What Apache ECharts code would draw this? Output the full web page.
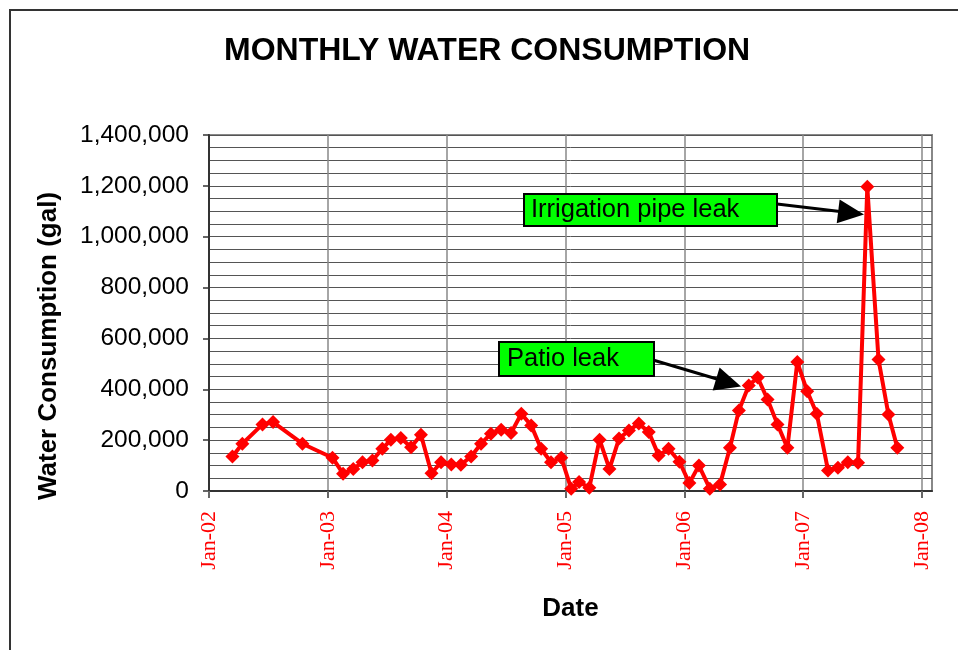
<!DOCTYPE html>
<html>
<head>
<meta charset="utf-8">
<script src="https://cdn.jsdelivr.net/npm/echarts@6/dist/echarts.min.js"></script>
<style>
html,body{margin:0;padding:0;background:#fff;}
#chart{width:958px;height:650px;}
</style>
</head>
<body>
<div id="chart"></div>
<script>
// ---- data ----
const readingDates = ['2002-03-12','2002-04-12','2002-06-13','2002-07-15','2002-10-14',
  '2003-01-15','2003-02-17','2003-03-18','2003-04-16','2003-05-16','2003-06-16','2003-07-12','2003-08-12','2003-09-13','2003-10-13','2003-11-15','2003-12-14',
  '2004-01-15','2004-02-14','2004-03-15','2004-04-15','2004-05-15','2004-06-16','2004-07-16','2004-08-17','2004-09-17','2004-10-17','2004-11-17','2004-12-18',
  '2005-01-18','2005-02-12','2005-03-13','2005-04-14','2005-05-14','2005-06-13','2005-07-13','2005-08-13','2005-09-13','2005-10-13','2005-11-13','2005-12-16',
  '2006-01-16','2006-02-15','2006-03-18','2006-04-19','2006-05-19','2006-06-16','2006-07-16','2006-08-13','2006-09-13','2006-10-13','2006-11-13','2006-12-13',
  '2007-01-13','2007-02-12','2007-03-16','2007-04-16','2007-05-16','2007-06-17','2007-07-15','2007-08-19','2007-09-19','2007-10-16'];
const consumption = [136000,186000,262000,271000,186000,
  131000,68000,87000,113000,120000,166000,202000,208000,172000,221000,70000,113000,
  104000,103000,136000,186000,225000,241000,228000,304000,258000,166000,113000,131000,
  9000,35000,13000,202000,87000,206000,238000,265000,232000,140000,166000,115000,
  31000,100000,9000,26000,170000,317000,415000,446000,360000,262000,170000,507000,
  392000,304000,81000,91000,113000,111000,1196000,517000,301000,170000];
const xTickLabels = ['Jan-02','Jan-03','Jan-04','Jan-05','Jan-06','Jan-07','Jan-08'];
const annotations = ['Irrigation pipe leak','Patio leak'];

// months since Jan 2002
function toMonths(s){
  const p = s.split('-').map(Number);
  return (p[0]-2002)*12 + (p[1]-1) + (p[2]-1)/30;
}
const seriesData = readingDates.map((d,i)=>[toMonths(d), consumption[i]]);
const xTickValues = xTickLabels.map((_,i)=>i*12);

const SANS = '"Liberation Sans", Arial, sans-serif';
const SERIF = '"Liberation Serif", "Times New Roman", serif';

function arrowHead(tip, from, len, half){
  const dx = tip[0]-from[0], dy = tip[1]-from[1];
  const L = Math.sqrt(dx*dx+dy*dy);
  const ux = dx/L, uy = dy/L;
  const bx = tip[0]-ux*len, by = tip[1]-uy*len;
  return [tip, [bx - uy*half, by + ux*half], [bx + uy*half, by - ux*half]];
}

const chart = echarts.init(document.getElementById('chart'), null, {renderer:'canvas'});
const option = {
  animation:false,
  backgroundColor:'#fff',
  title:{
    text:'MONTHLY WATER CONSUMPTION',
    left:224, top:35, padding:0,
    textStyle:{fontFamily:SANS, fontWeight:'bold', fontSize:32, color:'#000'}
  },
  grid:{left:209, right:26, top:135, bottom:159, show:true, borderColor:'#888', borderWidth:2, backgroundColor:'transparent'},
  xAxis:{
    type:'value', min:0, max:73, interval:12,
    name:'Date', nameLocation:'middle', nameGap:105,
    nameTextStyle:{fontFamily:SANS, fontWeight:'bold', fontSize:26, color:'#000'},
    axisLine:{show:true, lineStyle:{color:'#333', width:2}},
    axisTick:{show:true, length:7, lineStyle:{color:'#666', width:2}, customValues:xTickValues},
    axisLabel:{rotate:90, margin:20, color:'#FF0000', fontFamily:SERIF, fontSize:22,
      customValues:xTickValues,
      formatter:(v)=>xTickLabels[Math.round(v/12)] || ''},
    splitLine:{show:true, lineStyle:{color:'#888', width:1.5}}
  },
  yAxis:{
    type:'value', min:0, max:1400000, interval:200000,
    name:'Water Consumption (gal)', nameLocation:'middle', nameGap:147,
    nameTextStyle:{fontFamily:SANS, fontWeight:'bold', fontSize:26, color:'#000', padding:[0,66,0,0]},
    axisLine:{show:true, lineStyle:{color:'#333', width:2}},
    axisTick:{show:true, length:6, lineStyle:{color:'#333', width:1.5}},
    axisLabel:{margin:20, color:'#000', fontFamily:SANS, fontSize:24.5,
      formatter:(v)=>v.toLocaleString('en-US')},
    splitLine:{show:true, lineStyle:{color:'#555', width:1}},
    minorTick:{show:false, splitNumber:4},
    minorSplitLine:{show:true, lineStyle:{color:'#555', width:1}}
  },
  series:[{
    type:'line',
    data:seriesData,
    symbol:'diamond', symbolSize:14,
    itemStyle:{color:'#FF0000'},
    lineStyle:{color:'#FF0000', width:4},
    z:3
  }],
  graphic:[
    {type:'rect', shape:{x:10, y:10, width:1000, height:700}, style:{fill:null, stroke:'#333', lineWidth:2}, silent:true},
    // irrigation annotation
    {type:'line', shape:{x1:777, y1:204, x2:840, y2:211.5}, style:{stroke:'#000', lineWidth:3}, z:10},
    {type:'polygon', shape:{points:arrowHead([864,214.5],[777,204],26,12)}, style:{fill:'#000'}, z:10},
    {type:'rect', shape:{x:524, y:194, width:253, height:32}, style:{fill:'#00FF00', stroke:'#000', lineWidth:2}, z:10},
    {type:'text', x:531, y:210, style:{text:annotations[0], fontFamily:SANS, fontSize:25.5, fill:'#000', verticalAlign:'middle', align:'left'}, z:11},
    // patio annotation
    {type:'line', shape:{x1:653, y1:360, x2:717, y2:379}, style:{stroke:'#000', lineWidth:3}, z:10},
    {type:'polygon', shape:{points:arrowHead([741,386.5],[653,360],26,12)}, style:{fill:'#000'}, z:10},
    {type:'rect', shape:{x:499, y:342, width:155, height:34}, style:{fill:'#00FF00', stroke:'#000', lineWidth:2}, z:10},
    {type:'text', x:507, y:359, style:{text:annotations[1], fontFamily:SANS, fontSize:25.5, fill:'#000', verticalAlign:'middle', align:'left'}, z:11}
  ]
};
chart.setOption(option);
</script>
</body>
</html>
